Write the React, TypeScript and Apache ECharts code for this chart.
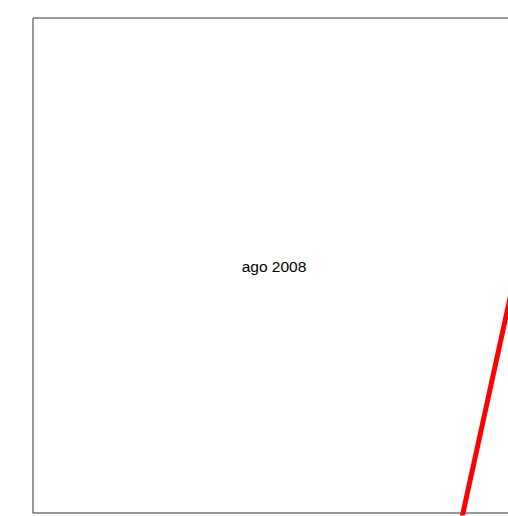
import React, { useEffect, useRef } from "react";
import * as echarts from "echarts";

const xValues: number[] = [0.8876, 1.0];
const yValues: number[] = [-0.02, 0.48];
const centerLabel = "ago 2008";

export default function App() {
  const ref = useRef<HTMLDivElement>(null);
  useEffect(() => {
    if (!ref.current) return;
    const chart = echarts.init(ref.current, null, { renderer: "svg" });
    chart.setOption({
      animation: false,
      backgroundColor: "#ffffff",
      grid: {
        left: 33,
        top: 18,
        right: 5,
        bottom: 3,
        show: true,
        borderColor: "#333333",
        borderWidth: 1,
        backgroundColor: "transparent",
      },
      xAxis: {
        type: "value",
        min: 0,
        max: 1,
        show: false,
      },
      yAxis: {
        type: "value",
        min: 0,
        max: 1,
        show: false,
      },
      series: [
        {
          type: "line",
          data: xValues.map((x, i) => [x, yValues[i]]),
          showSymbol: false,
          clip: true,
          lineStyle: { color: "#ff0000", width: 5 },
        },
      ],
      graphic: [
        {
          type: "text",
          x: 274,
          y: 266,
          style: {
            text: centerLabel,
            fill: "#000000",
            font: "15.5px 'Liberation Sans', Arial, sans-serif",
            textAlign: "center",
            textVerticalAlign: "middle",
          },
        },
      ],
    });
    return () => chart.dispose();
  }, []);
  return (
    <div
      style={{
        position: "fixed",
        left: 0,
        top: 0,
        width: 508,
        height: 516,
        overflow: "hidden",
        background: "#ffffff",
      }}
    >
      <div ref={ref} style={{ width: 520, height: 516 }} />
    </div>
  );
}
